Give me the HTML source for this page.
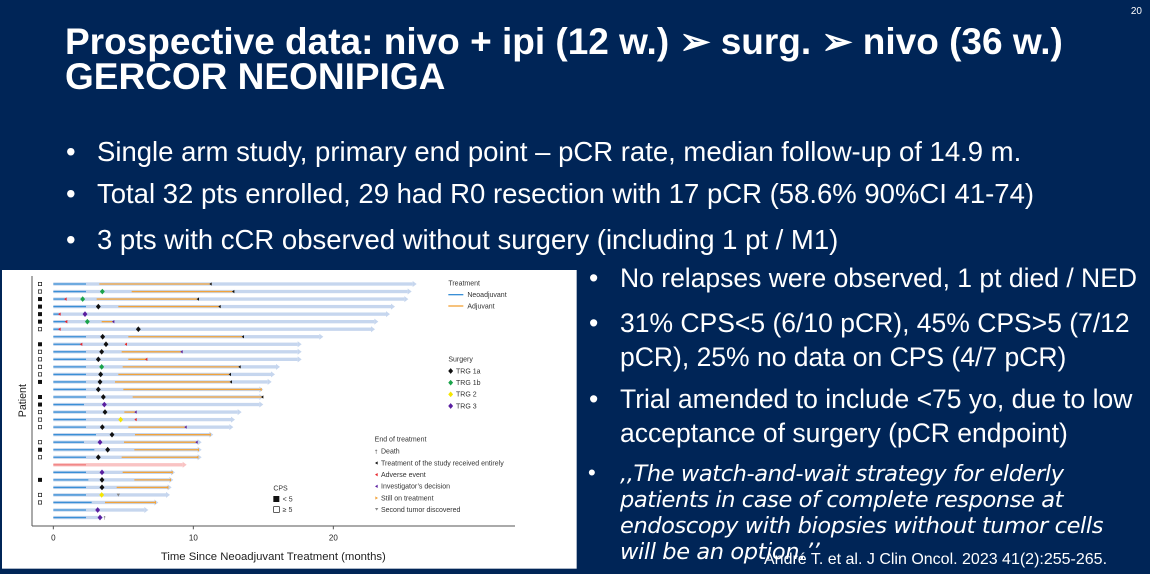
<!DOCTYPE html>
<html><head><meta charset="utf-8"><style>
body{margin:0;width:1150px;height:574px;background:#002557;overflow:hidden;position:relative;font-family:"Liberation Sans",sans-serif;color:#fff}
.t{position:absolute;left:65px;font-weight:bold;font-size:37px;white-space:nowrap}
.b{position:absolute;font-size:27.5px;white-space:nowrap}
.b:before{content:"•";position:absolute;left:-31px}
.r{font-size:26.5px}
.q{position:absolute;left:620px;font-family:"DejaVu Sans",sans-serif;font-style:italic;font-size:22.5px;line-height:26px;letter-spacing:-0.4px;white-space:nowrap}
#chart{position:absolute;left:0;top:270px;width:580px;height:304px}
</style></head><body>
<div style="position:absolute;right:8px;top:6px;font-size:10px">20</div>
<div class="t" style="top:20px">Prospective data: nivo + ipi (12 w.) ➢ surg. ➢ nivo (36 w.)</div>
<div class="t" style="top:56px">GERCOR NEONIPIGA</div>
<div class="b" style="left:97px;top:136px">Single arm study, primary end point – pCR rate, median follow-up of 14.9 m.</div>
<div class="b" style="left:97px;top:178px">Total 32 pts enrolled, 29 had R0 resection with 17 pCR (58.6% 90%CI 41-74)</div>
<div class="b" style="left:97px;top:224px">3 pts with cCR observed without surgery (including 1 pt / M1)</div>
<div class="b r" style="left:620px;top:263px">No relapses were observed, 1 pt died / NED</div>
<div class="b r" style="left:620px;top:306px;line-height:34px">31% CPS&lt;5 (6/10 pCR), 45% CPS&gt;5 (7/12<br>pCR), 25% no data on CPS (4/7 pCR)</div>
<div class="b r" style="left:620px;top:382px;line-height:34px">Trial amended to include &lt;75 yo, due to low<br>acceptance of surgery (pCR endpoint)</div>
<div style="position:absolute;left:588px;top:460px;font-size:22px">•</div>
<div class="q" style="top:461px">,,The watch-and-wait strategy for elderly<br>patients in case of complete response at<br>endoscopy with biopsies without tumor cells<br>will be an option.’’</div>
<div style="position:absolute;left:764px;top:551px;font-size:16px">André T. et al. J Clin Oncol. 2023 41(2):255-265.</div>
<svg id="chart" viewBox="0 0 1740 912" font-family="Liberation Sans,sans-serif">
<rect x="6" y="0" width="1724" height="896" fill="#fff"/>
<line x1="96" y1="18" x2="96" y2="768" stroke="#555" stroke-width="3"/>
<line x1="96" y1="768" x2="1545" y2="768" stroke="#555" stroke-width="3"/>
<g stroke="#555" stroke-width="3"><line x1="160" y1="768" x2="160" y2="778"/><line x1="580" y1="768" x2="580" y2="778"/><line x1="1000" y1="768" x2="1000" y2="778"/></g>
<g font-size="24" fill="#222" text-anchor="middle"><text x="160" y="812">0</text><text x="580" y="812">10</text><text x="1000" y="812">20</text></g>
<text x="820" y="870" font-size="34" text-anchor="middle" fill="#222">Time Since Neoadjuvant Treatment (months)</text>
<text transform="translate(78,392) rotate(-90)" font-size="32" text-anchor="middle" fill="#222">Patient</text>
<g id="rows"></g>
<g font-size="21" fill="#333">
<text x="1345" y="47">Treatment</text>
<line x1="1345" y1="74" x2="1390" y2="74" stroke="#3a8fd6" stroke-width="4"/><text x="1402" y="81">Neoadjuvant</text>
<line x1="1345" y1="108" x2="1390" y2="108" stroke="#f2a33a" stroke-width="4"/><text x="1402" y="115">Adjuvant</text>
<text x="1345" y="275">Surgery</text>
<text x="1368" y="310">TRG 1a</text><text x="1368" y="345">TRG 1b</text><text x="1368" y="380">TRG 2</text><text x="1368" y="415">TRG 3</text>
<text x="1124" y="515">End of treatment</text>
<text x="1143" y="551">Death</text>
<text x="1143" y="586">Treatment of the study received entirely</text>
<text x="1143" y="621">Adverse event</text>
<text x="1143" y="656">Investigator’s decision</text>
<text x="1143" y="691">Still on treatment</text>
<text x="1143" y="726">Second tumor discovered</text>
<text x="820" y="661">CPS</text>
<rect x="820" y="678" width="18" height="18" fill="#111"/><text x="848" y="694">&lt; 5</text>
<rect x="821" y="710" width="17" height="17" fill="#fff" stroke="#111" stroke-width="2"/><text x="848" y="726">≥ 5</text>
</g>
<g id="leg"></g>
</svg>
<script>
var C={k:"#111",g:"#1aa34a",y:"#f5e600",p:"#5a1fa0",r:"#e8262c",o:"#f2a33a",x:"#888"};
function dia(x,y,c){return '<path d="M'+(x-6)+' '+y+'L'+x+' '+(y-7)+'L'+(x+6)+' '+y+'L'+x+' '+(y+7)+'Z" fill="'+c+'" stroke="'+c+'" stroke-width="2"/>';}
function tri(x,y,c){return '<polygon points="'+(x+2)+','+(y-5)+' '+(x-6)+','+y+' '+(x+2)+','+(y+5)+'" fill="'+c+'"/>';}
var R=[
[1250,258,[],[298,635,'k'],'o'],
[1235,258,[[307,'g','s']],[395,703,'k'],'o'],
[1225,198,[[198,'r','t'],[248,'g','s']],[290,597,'k'],'f'],
[1185,258,[[295,'k','s']],[355,662,'k'],'f'],
[1170,180,[[180,'r','t'],[255,'p','s']],null,'f'],
[1135,200,[[200,'r','t'],[262,'g','s']],[305,343,'p'],'f'],
[1125,180,[[180,'r','t'],[415,'k','s']],null,'o'],
[970,258,[[308,'k','s']],[385,732,'k'],''],
[905,245,[[245,'r','t'],[318,'k','s']],[375,381,'r'],'f'],
[905,258,[[305,'k','s']],[365,548,'p'],'o'],
[905,258,[[295,'k','s']],[385,442,'r'],'o'],
[840,258,[[305,'g','s']],[368,722,'k'],'o'],
[825,258,[[302,'k','s']],[355,693,'k'],'o'],
[815,258,[[300,'k','s']],[345,696,'k'],'f'],
[790,258,[[295,'k','s']],[370,785,'o'],''],
[790,258,[[310,'k','s']],[398,790,'k'],'f'],
[790,252,[[313,'p','s']],null,'f'],
[725,258,[[315,'k','s']],[373,410,'p'],'o'],
[705,258,[[362,'y','s']],[405,410,'r'],'o'],
[700,258,[[307,'k','s']],[385,560,'p'],'o'],
[640,288,[[336,'k','s']],[405,632,'o'],''],
[605,252,[[300,'p','s']],[372,593,'p'],'o'],
[605,283,[[323,'k','s']],[403,597,'o'],'f'],
[605,258,[[295,'k','s']],[365,595,'o'],'o'],
[560,258,[],null,'',1],
[525,258,[[306,'p','s']],[368,518,'o'],''],
[520,265,[[306,'k','s']],[403,513,'o'],'f'],
[515,258,[[306,'k','s']],[350,505,'o'],''],
[510,258,[[305,'y','s'],[355,'x','v']],null,'o'],
[475,275,[],[315,468,'o'],'o'],
[445,258,[[293,'p','s']],null,''],
[310,258,[[300,'p','s']],null,'']];
var s='';
R.forEach(function(r,i){var y=42+i*22.6;
var bc=r[5]?'#f9c3c3':'#c6d6ee';
s+='<rect x="160" y="'+(y-5)+'" width="'+(r[0]-172)+'" height="10" fill="'+bc+'"/>';
s+='<polygon points="'+(r[0]-12)+','+(y-9)+' '+r[0]+','+y+' '+(r[0]-12)+','+(y+9)+'" fill="'+bc+'"/>';
s+='<line x1="160" y1="'+y+'" x2="'+r[1]+'" y2="'+y+'" stroke="'+(r[5]?'#f08080':'#3a8fd6')+'" stroke-width="4"/>';
if(r[3]){s+='<line x1="'+r[3][0]+'" y1="'+y+'" x2="'+r[3][1]+'" y2="'+y+'" stroke="#f2a33a" stroke-width="4"/>';
s+='<polygon points="'+r[3][1]+','+(y-5)+' '+(r[3][1]-7)+','+y+' '+r[3][1]+','+(y+5)+'" fill="'+C[r[3][2]]+'"/>';}
r[2].forEach(function(e){var x=e[0],c=C[e[1]];
if(e[2]=='s')s+=dia(x,y,c);
else if(e[2]=='t')s+=tri(x,y,c);
else s+='<polygon points="'+(x-5)+','+(y-4)+' '+(x+5)+','+(y-4)+' '+x+','+(y+5)+'" fill="'+c+'"/>';});
if(r[4]=='f')s+='<rect x="114" y="'+(y-6)+'" width="12" height="12" fill="#111"/>';
if(r[4]=='o')s+='<rect x="115" y="'+(y-5)+'" width="10" height="10" fill="#fff" stroke="#111" stroke-width="2"/>';
});
s+='<text x="310" y="748" font-size="14" fill="#333">†</text>';
document.getElementById('rows').innerHTML=s;
var L='';
[['k',303],['g',338],['y',373],['p',408]].forEach(function(a){L+=dia(1352,a[1],C[a[0]]);});
L+='<text x="1124" y="551" font-size="16" fill="#333">†</text>';
L+=tri(1131,579,'#111')+tri(1131,614,C.r)+tri(1131,649,C.p);
L+='<polygon points="1126,679 1134,684 1126,689" fill="'+C.o+'"/>';
L+='<polygon points="1125,714 1135,714 1130,722" fill="#888"/>';
document.getElementById('leg').innerHTML=L;
</script>
</body></html>
